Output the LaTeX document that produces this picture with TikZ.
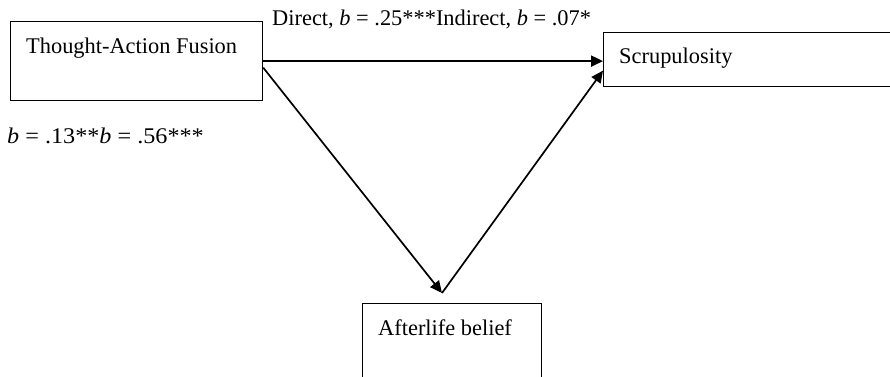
\documentclass[tikz,border=0pt]{standalone}
\usepackage{fontspec}
\setmainfont{Liberation Serif}
\usetikzlibrary{arrows.meta,calc}
\begin{document}
\begin{tikzpicture}[x=1pt,y=-1pt,
  box/.style={draw=black,line width=1.2pt,anchor=north west,inner sep=0pt},
  txt/.style={anchor=base west,inner sep=0pt,font=\fontsize{22.4}{26}\selectfont},
  arr/.style={line width=1.7pt,-{Triangle[length=12pt,width=11pt]}}]
\useasboundingbox (0,0) rectangle (890,376);
\clip (0,0) rectangle (890,376);
\node[box,minimum width=252pt,minimum height=79pt] (taf) at (10,21) {};
\node[box,minimum width=300pt,minimum height=54pt] (scr) at (603,32) {};
\node[box,minimum width=179pt,minimum height=90pt] (aft) at (362,303) {};
\node[txt] (taft) at (26,53) {Thought-Action Fusion};
\node[txt] (scrt) at (619,63) {Scrupulosity};
\node[txt] (aftt) at (378,335) {Afterlife belief};
\node[txt] (lab1) at (272,25) {Direct, \textit{b} = .25***Indirect, \textit{b} = .07*};
\node[txt] (lab2) at (7,143) {\scalebox{1.08}[1]{\textit{b} = .13**\textit{b} = .56***}};
\coordinate (v) at (442,293);
\draw[arr,line width=2.2pt] (taf.east) -- (taf.east -| scr.west);
\draw[arr] ($(taf.east)+(0,6.5)$) -- (v);
\draw[arr] (v) -- ($(scr.west)+(0,11)$);
\end{tikzpicture}
\end{document}
